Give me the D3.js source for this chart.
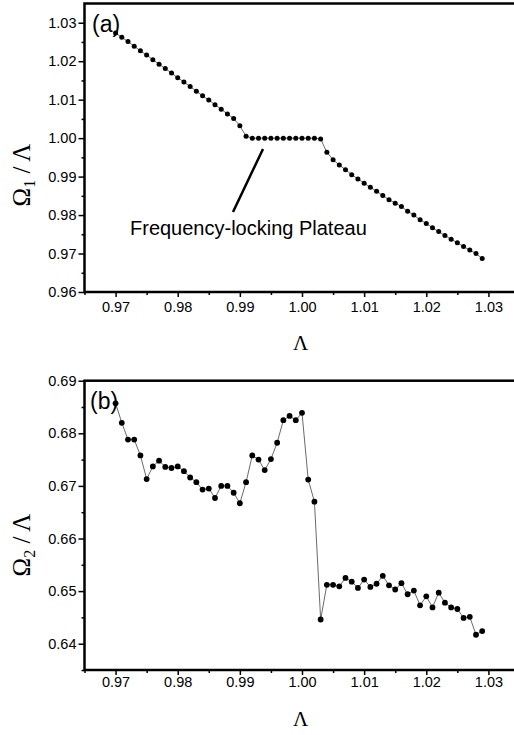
<!DOCTYPE html>
<html lang="en">
<head>
  <meta charset="UTF-8">
  <title>Frequency locking</title>
  <script src="https://d3js.org/d3.v7.min.js"></script>
  <style>
    body { margin: 0; background: #fff; }
    .tick text { font-family: "Liberation Sans", Arial, sans-serif; font-size: 14.5px; fill: #000; }
    .tick line { stroke: #000; stroke-width: 1.5px; }
    .axis-label { font-family: "Liberation Serif", "Times New Roman", serif; font-size: 21px; fill: #000; }
    .y-label { font-family: "Liberation Serif", "Times New Roman", serif; font-size: 25px; fill: #000; }
    .panel-tag { font-family: "Liberation Sans", Arial, sans-serif; font-size: 23px; fill: #000; }
    .note { font-family: "Liberation Sans", Arial, sans-serif; font-size: 20px; fill: #000; }
  </style>
</head>
<body>
  <svg id="chart" width="514" height="735"></svg>
  <script>
    // Lambda values, shared by both panels
    const lambda = [
      0.970, 0.971, 0.972, 0.973, 0.974, 0.975, 0.976, 0.977, 0.978, 0.979,
      0.980, 0.981, 0.982, 0.983, 0.984, 0.985, 0.986, 0.987, 0.988, 0.989,
      0.990, 0.991, 0.992, 0.993, 0.994, 0.995, 0.996, 0.997, 0.998, 0.999,
      1.000, 1.001, 1.002, 1.003, 1.004, 1.005, 1.006, 1.007, 1.008, 1.009,
      1.010, 1.011, 1.012, 1.013, 1.014, 1.015, 1.016, 1.017, 1.018, 1.019,
      1.020, 1.021, 1.022, 1.023, 1.024, 1.025, 1.026, 1.027, 1.028, 1.029
    ];

    // panel (a): Omega1 / Lambda
    const omega1 = [
      1.0273, 1.0262, 1.0251, 1.0239, 1.0227, 1.0216, 1.0204, 1.0192, 1.0181, 1.0169,
      1.0157, 1.0146, 1.0134, 1.0122, 1.0110, 1.0099, 1.0087, 1.0075, 1.0063, 1.0051,
      1.0032, 1.0005, 1.0000, 1.0000, 1.0000, 1.0000, 1.0000, 1.0000, 1.0000, 1.0000,
      1.0000, 1.0000, 1.0000, 0.9998, 0.9963, 0.9944, 0.9930, 0.9918, 0.9905, 0.9894,
      0.9883, 0.9872, 0.9862, 0.9851, 0.9840, 0.9831, 0.9822, 0.9810, 0.9800, 0.9788,
      0.9778, 0.9767, 0.9757, 0.9747, 0.9737, 0.9728, 0.9718, 0.9709, 0.9700, 0.9687
    ];

    // panel (b): Omega2 / Lambda
    const omega2 = [
      0.6857, 0.6820, 0.6788, 0.6788, 0.6758, 0.6713, 0.6737, 0.6748, 0.6736, 0.6734,
      0.6737, 0.6728, 0.6716, 0.6707, 0.6693, 0.6695, 0.6677, 0.6700, 0.6700, 0.6687,
      0.6667, 0.6707, 0.6758, 0.6750, 0.6730, 0.6751, 0.6782, 0.6825, 0.6833, 0.6825,
      0.6839, 0.6712, 0.6670, 0.6446, 0.6512, 0.6512, 0.6509, 0.6525, 0.6518, 0.6506,
      0.6522, 0.6508, 0.6514, 0.6529, 0.6511, 0.6503, 0.6515, 0.6494, 0.6501, 0.6473,
      0.6490, 0.6469, 0.6497, 0.6478, 0.6469, 0.6466, 0.6449, 0.6451, 0.6417, 0.6424
    ];

    const xTicks = [0.97, 0.98, 0.99, 1.00, 1.01, 1.02, 1.03];
    const xMinor = [0.965, 0.975, 0.985, 0.995, 1.005, 1.015, 1.025, 1.035];
    const yTicksA = [0.96, 0.97, 0.98, 0.99, 1.00, 1.01, 1.02, 1.03];
    const yMinorA = [0.965, 0.975, 0.985, 0.995, 1.005, 1.015, 1.025];
    const yTicksB = [0.64, 0.65, 0.66, 0.67, 0.68, 0.69];
    const yMinorB = [0.635, 0.645, 0.655, 0.665, 0.675, 0.685];

    const svg = d3.select("#chart");
    const x = d3.scaleLinear().domain([0.965, 1.035]).range([84.5, 519.5]);
    const fmt = d3.format(".2f");

    function drawPanel(o) {
      const y = d3.scaleLinear().domain(o.yDomain).range([o.bottom, o.top]);
      const g = svg.append("g");

      // minor ticks first
      g.append("g").attr("transform", `translate(0,${o.bottom})`)
        .call(d3.axisBottom(x).tickValues(xMinor).tickSize(3).tickFormat(""))
        .call(a => a.select(".domain").remove());
      g.append("g").attr("transform", `translate(${x.range()[0]},0)`)
        .call(d3.axisLeft(y).tickValues(o.yMinor).tickSize(3).tickFormat(""))
        .call(a => a.select(".domain").remove());

      g.append("g").attr("transform", `translate(0,${o.bottom})`)
        .call(d3.axisBottom(x).tickValues(xTicks).tickSize(5).tickPadding(o.xPad).tickFormat(fmt))
        .call(a => a.select(".domain").remove());
      g.append("g").attr("transform", `translate(${x.range()[0]},0)`)
        .call(d3.axisLeft(y).tickValues(o.yTicks).tickSize(6).tickPadding(2).tickFormat(fmt))
        .call(a => a.select(".domain").remove());

      // frame (right edge falls outside the picture)
      g.append("rect")
        .attr("x", x.range()[0]).attr("y", o.top)
        .attr("width", x.range()[1] - x.range()[0])
        .attr("height", o.bottom - o.top)
        .attr("fill", "none").attr("stroke", "#000").attr("stroke-width", 2.5);

      const pts = lambda.map((l, i) => [l, o.values[i]]);

      g.append("path")
        .datum(pts)
        .attr("fill", "none")
        .attr("stroke", "#444")
        .attr("stroke-width", 0.8)
        .attr("d", d3.line().x(d => x(d[0])).y(d => y(d[1])));

      g.selectAll("circle.pt").data(pts).enter().append("circle")
        .attr("class", "pt")
        .attr("cx", d => x(d[0]))
        .attr("cy", d => y(d[1]))
        .attr("r", o.r)
        .attr("fill", "#000");

      g.append("text").attr("class", "panel-tag")
        .attr("x", o.tagX).attr("y", o.tagY).text(o.tag);

      // x label
      g.append("text").attr("class", "axis-label")
        .attr("x", 300.5).attr("y", o.xLabelY)
        .attr("text-anchor", "middle").text("Λ");

      // y label
      const yl = g.append("text").attr("class", "y-label")
        .attr("transform", `translate(30,${o.yLabelC}) rotate(-90)`)
        .attr("text-anchor", "middle");
      yl.append("tspan").text("Ω");
      yl.append("tspan").attr("font-size", "16px").attr("dy", 5).text(o.sub);
      yl.append("tspan").attr("dy", -5).text(" / Λ");

      return { g, y };
    }

    const pa = drawPanel({
      yDomain: [0.96, 1.035], top: 3.5, bottom: 292,
      yTicks: yTicksA, yMinor: yMinorA, values: omega1, r: 2.5,
      xPad: 4.5, tag: "(a)", tagX: 92, tagY: 32, xLabelY: 350,
      yLabelC: 175, sub: "1"
    });

    // annotation
    pa.g.append("line")
      .attr("x1", 233).attr("y1", 212).attr("x2", 263).attr("y2", 149)
      .attr("stroke", "#000").attr("stroke-width", 2.5);
    pa.g.append("text").attr("class", "note")
      .attr("x", 130).attr("y", 235).text("Frequency-locking Plateau");

    drawPanel({
      yDomain: [0.635, 0.69], top: 380.7, bottom: 670,
      yTicks: yTicksB, yMinor: yMinorB, values: omega2, r: 2.9,
      xPad: 2, tag: "(b)", tagX: 90, tagY: 409, xLabelY: 726,
      yLabelC: 545, sub: "2"
    });
  </script>
</body>
</html>
